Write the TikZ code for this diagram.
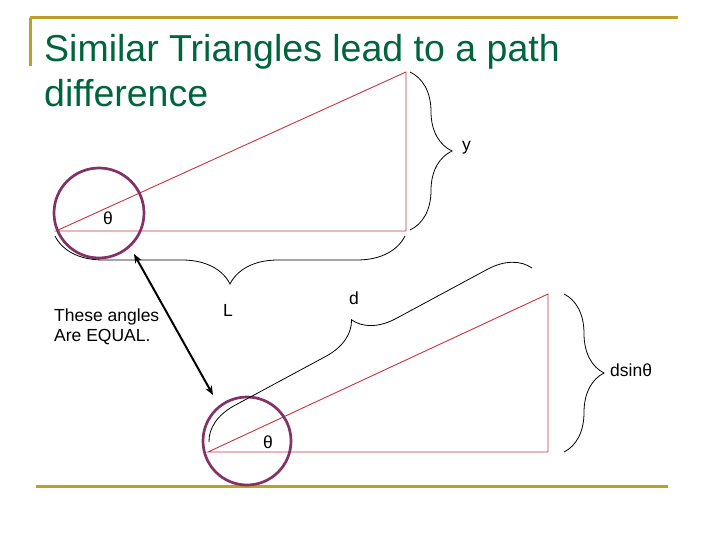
\documentclass[tikz,border=0pt]{standalone}
\usepackage{fontspec}
\setmainfont{Liberation Sans}
\usetikzlibrary{decorations.pathreplacing,arrows.meta}
\definecolor{gold}{RGB}{190,160,40}
\definecolor{ttl}{RGB}{0,100,60}
\definecolor{tri}{RGB}{200,50,60}
\definecolor{purp}{RGB}{130,50,100}
\begin{document}
\begin{tikzpicture}[x=1pt,y=-1pt,
  goldline/.style={gold,line width=3pt},
  triline/.style={tri,line width=0.9pt},
  ring/.style={purp,line width=2.7pt},
  brc/.style={decorate,decoration={brace,amplitude=#1},line width=0.8pt},
  lbl/.style={font=\fontsize{17.5}{21}\selectfont,inner sep=0pt}]
\useasboundingbox (0,0) rectangle (720,540);
\draw[goldline] (30,18) -- (678,18);
\draw[goldline] (30,18) -- (30,66);
\draw[goldline] (36,486) -- (668,486);
\node[anchor=base west,text=ttl,font=\fontsize{37.5}{44}\selectfont,inner sep=0pt] (title) at (44,62) {Similar Triangles lead to a path};
\node[anchor=base west,text=ttl,font=\fontsize{37.5}{44}\selectfont,inner sep=0pt] (title2) at (44,107) {difference};
% triangle 1
\coordinate (a1) at (56,231); \coordinate (b1) at (406,231); \coordinate (c1) at (406,72);
\draw[triline] (a1) -- (b1) -- (c1) -- cycle;
\draw[ring] (99,213) circle (45);
\node[lbl] (t1) at (108,218) {θ};
% triangle 2
\coordinate (a2) at (208,452); \coordinate (b2) at (548,452); \coordinate (c2) at (548,294);
\draw[triline] (a2) -- (b2) -- (c2) -- cycle;
\draw[ring] (247,441) circle (44);
\node[lbl] (t2) at (268,442) {θ};
% braces
\coordinate (yb1) at (410,72); \coordinate (yb2) at (410,230);
\draw[brc=42] (yb1) -- (yb2);
\node[lbl,anchor=west] (ylab) at (462,148) {y};
\coordinate (lb1) at (405,236); \coordinate (lb2) at (55,236);
\draw[brc=48,decoration={aspect=0.5}] (lb1) -- (lb2);
\node[lbl] (llab) at (228,310) {L};
\coordinate (db1) at (209,442); \coordinate (db2) at (532,268);
\draw[brc=40,decoration={aspect=0.5}] (db1) -- (db2);
\node[lbl] (dlab) at (354,298) {d};
\coordinate (sb1) at (564,294); \coordinate (sb2) at (564,452);
\draw[brc=40] (sb1) -- (sb2);
\node[lbl,anchor=west] (slab) at (610,370) {dsinθ};
% text and arrow
\node[lbl,anchor=north west,align=left,font=\fontsize{17.5}{20}\selectfont] (eq) at (54,309) {These angles\\Are EQUAL.};
\coordinate (ar1) at (134,254); \coordinate (ar2) at (213,395);
\draw[line width=2pt,{Stealth[length=9pt,width=7pt]}-{Stealth[length=9pt,width=7pt]}] (ar1) -- (ar2);
\end{tikzpicture}
\end{document}
